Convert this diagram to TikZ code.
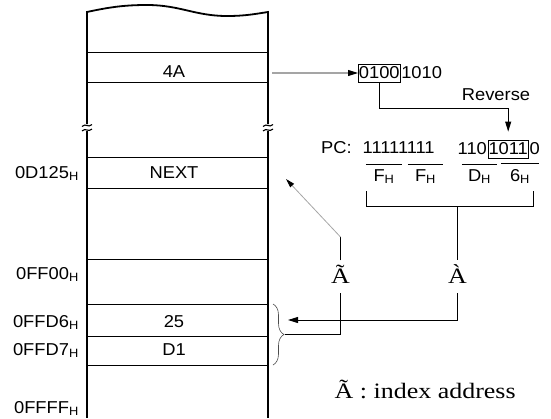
\documentclass[tikz,border=0pt]{standalone}
\usepackage{fontspec}
\setmainfont{Liberation Sans}[FakeStretch=1.065]
\newfontfamily\tms{Liberation Serif}[FakeStretch=1.18]
\usetikzlibrary{arrows.meta,positioning,decorations.pathreplacing}
\newcommand{\hx}{\textsubscript{H}}

\begin{document}
\begin{tikzpicture}[x=1pt,y=-1pt,font=\fontsize{17.2}{20}\selectfont,
        col/.style={line width=1.8pt},
        row/.style={line width=0.9pt},
        cell/.style={inner sep=0pt,anchor=base},
        addr/.style={inner sep=0pt,anchor=base east},
        bits/.style={inner xsep=0.5pt,inner ysep=2pt,text depth=2pt},
        bitbox/.style={bits,draw,line width=0.8pt},
        hex/.style={inner xsep=0pt,inner ysep=5pt,anchor=base},
        sym/.style={font=\tms\fontsize{22}{26}\selectfont,inner xsep=0pt,inner ysep=4pt,text depth=6pt,anchor=base},
        arr/.style={-{Triangle[length=10pt,width=6pt]},line width=0.9pt},
        ptr/.style={-{Triangle[length=9pt,width=5pt,color=black]},line width=0.8pt,gray!70},
        brc/.style={decorate,decoration={brace,amplitude=11pt},line width=0.6pt,black!70}]
  \useasboundingbox (0,0) rectangle (551,418);
  % memory column
  \draw[col] (87,124) -- (87,12) .. controls (110,7) and (125,5) .. (147,5)
     .. controls (180,5) and (195,16) .. (227,16)
     .. controls (245,16) and (255,14) .. (268,12) -- (268,124);
  \draw[col] (87,131) -- (87,418) (268,131) -- (268,418);
  \foreach \bx in {87,268}
    \foreach \by in {125.5,130}
      \draw[line width=1.1pt] (\bx-5,\by+1) .. controls (\bx-1,\by-3) and (\bx+1,\by+3) .. (\bx+5,\by-1);
  \foreach \ry in {52,82,157,188,259,304,336,365}
    \draw[row] (87,\ry) -- (268,\ry);

  \node[cell] (c4a) at (174,77) {4A};
  \node[cell] (cnx) at (174,178) {NEXT};
  \node[cell] (c25) at (174,327) {25};
  \node[cell] (cd1) at (174,355) {D1};

  \node[addr] (a1) at (79,178) {0D125\hx};
  \node[addr] (a2) at (79,279) {0FF00\hx};
  \node[addr] (a3) at (79,327) {0FFD6\hx};
  \node[addr] (a4) at (79,355) {0FFD7\hx};
  \node[addr] (a5) at (79,413) {0FFFF\hx};

  % opcode byte and PC
  \node[bitbox,anchor=base west] (hi) at (358,78) {0100};
  \node[bits,base right=0pt of hi] (lo) {1010};
  \node[anchor=base] (revl) at (496,100) {Reverse};

  \node[inner sep=0pt,anchor=base west] (pc) at (321,153) {PC:};
  \node[bits,anchor=base west] (ff) at (362,153) {11111111};
  \node[bits,anchor=base west] (d110) at (457,154) {110};
  \node[bitbox,base right=0pt of d110] (rv) {1011};
  \node[bits,base right=0pt of rv] (d0) {0};

  \node[hex,minimum width=36pt] (f1) at (384,181) {F\hx};
  \node[hex,minimum width=35pt] (f2) at (425.5,181) {F\hx};
  \node[hex,minimum width=35pt] (fd) at (479.5,181) {D\hx};
  \node[hex,minimum width=38pt] (f6) at (520,181) {6\hx};
  \foreach \n in {f1,f2,fd,f6}
    \draw[row] (\n.north west) -- (\n.north east);

  \node[sym] (atl) at (340.5,283) {Ã};
  \node[sym] (agr) at (457.5,283) {À};
  \node[font=\tms\fontsize{22}{26}\selectfont,inner sep=0pt,anchor=base west] (leg) at (334.5,398) {Ã : index address};

  \coordinate (out) at (272,73);
  \coordinate (bl) at (366,191);
  \coordinate (br) at (533,191);
  \coordinate (bm) at (457.5,206);
  \coordinate (kink) at (340.5,237);
  \coordinate (nxt) at (286,179);
  \coordinate (bt) at (285,334.5);
  \coordinate (hit) at (288,320);

  \draw[arr] (out) -- (hi);
  \draw[arr,shorten >=8pt] (hi.south) -- ++(0,26) -| (rv.north);
  \draw[row] (bl) -- ++(0,15) -| (br);
  \draw[row] (bm) -- (agr);
  \draw[row] (atl) -- (kink);
  \draw[ptr] (kink) -- (nxt);
  \draw[brc] (273,304) -- (273,365);
  \draw[row] (atl.south) |- (bt);
  \draw[arr] (agr.south) |- (hit);
\end{tikzpicture}
\end{document}
